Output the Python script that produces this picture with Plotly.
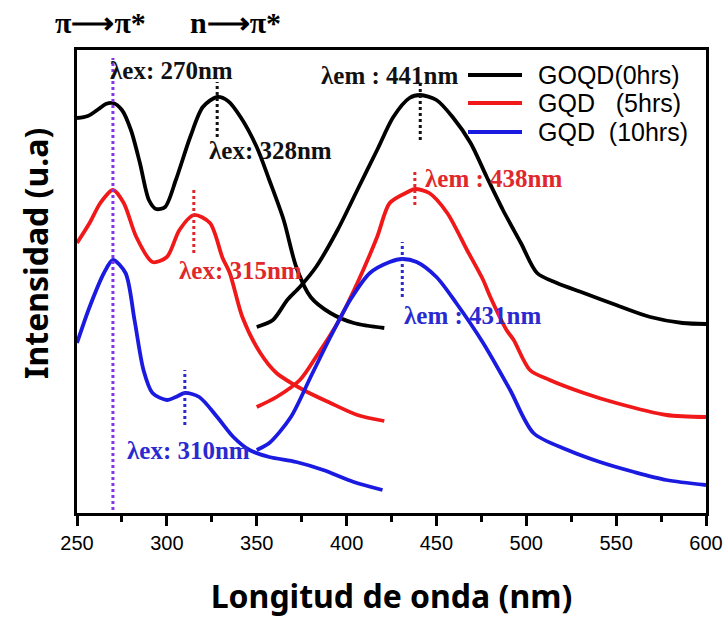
import plotly.graph_objects as go

# Wavelengths (nm) and intensities (arbitrary units) of each spectrum
ex_black_x = [250, 256, 262, 266, 270, 275, 280, 285, 290, 294, 299, 305, 313, 320, 328, 334, 341, 350, 357, 365, 372, 380, 391, 404, 421]
ex_black_y = [395, 397, 404, 409, 410, 403, 383, 350, 313, 304, 306, 333, 376, 406, 416, 412, 396, 366, 333, 293, 246, 216, 200, 190, 185]
em_black_x = [350, 359, 367, 374, 383, 395, 406, 417, 426, 435, 441, 450, 459, 469, 478, 487, 497, 506, 517, 532, 550, 569, 587, 600]
em_black_y = [186, 193, 213, 226, 246, 283, 323, 363, 396, 415, 418, 413, 396, 370, 336, 303, 270, 240, 230, 220, 208, 196, 190, 189]

ex_red_x = [250, 257, 263, 270, 276, 283, 292, 300, 307, 315, 324, 331, 335, 342, 352, 361, 376, 391, 406, 421]
ex_red_y = [270, 290, 310, 323, 310, 276, 251, 256, 283, 298, 290, 255, 240, 196, 160, 140, 123, 110, 98, 92]
em_red_x = [350, 361, 374, 383, 395, 406, 417, 424, 434, 438, 446, 456, 467, 476, 480, 489, 493, 502, 513, 532, 550, 578, 600]
em_red_y = [106, 116, 133, 156, 190, 230, 276, 310, 321, 324, 320, 300, 263, 233, 216, 183, 173, 143, 133, 120, 110, 98, 96]

ex_blue_x = [250, 257, 265, 270, 277, 282, 287, 292, 300, 305, 310, 318, 328, 337, 346, 357, 372, 387, 404, 420]
ex_blue_y = [170, 206, 240, 253, 240, 193, 143, 120, 113, 116, 120, 116, 96, 76, 63, 56, 51, 43, 31, 23]
em_blue_x = [350, 357, 369, 380, 391, 402, 413, 424, 431, 439, 450, 461, 476, 491, 504, 523, 541, 560, 578, 600]
em_blue_y = [63, 70, 96, 136, 176, 213, 240, 251, 254, 251, 236, 210, 170, 123, 80, 63, 51, 41, 33, 28]

series_names = ["GOQD(0hrs)", "GQD\u00a0\u00a0\u00a0(5hrs)", "GQD\u00a0\u00a0(10hrs)"]

# Peak wavelengths marked with dotted lines and their vertical spans
ex_peak_pi = 270
ex_peaks = [328, 315, 310]
em_peaks = [441, 438, 431]
ex_mark_span = [(376, 431), (260, 323), (88, 143)]
em_mark_span = [(373, 430), (308, 343), (216, 271)]

x_ticks = [250, 300, 350, 400, 450, 500, 550, 600]

line_colors = ["#000000", "#f01818", "#1a1ae0"]
text_colors = ["#111111", "#e0282c", "#2a2ad0"]
SERIF = "Liberation Serif"
SANS = "Liberation Sans"
TITLE = "Noto Sans"

fig = go.Figure()

ex_sets = [(ex_black_x, ex_black_y), (ex_red_x, ex_red_y), (ex_blue_x, ex_blue_y)]
em_sets = [(em_black_x, em_black_y), (em_red_x, em_red_y), (em_blue_x, em_blue_y)]

for i in range(3):
    fig.add_trace(go.Scatter(
        x=ex_sets[i][0], y=ex_sets[i][1], mode="lines",
        line=dict(color=line_colors[i], width=3.8, shape="spline", smoothing=0.8),
        showlegend=False, hoverinfo="skip"))
    fig.add_trace(go.Scatter(
        x=em_sets[i][0], y=em_sets[i][1], mode="lines", name=series_names[i],
        line=dict(color=line_colors[i], width=3.8, shape="spline", smoothing=0.8),
        showlegend=False, hoverinfo="skip"))

# dotted peak markers
fig.add_trace(go.Scatter(x=[ex_peak_pi, ex_peak_pi], y=[3, 455], mode="lines",
                         line=dict(color="#8236e6", width=3, dash="dot"),
                         showlegend=False, hoverinfo="skip"))
for i in range(3):
    fig.add_trace(go.Scatter(x=[ex_peaks[i]] * 2, y=list(ex_mark_span[i]), mode="lines",
                             line=dict(color=text_colors[i], width=3, dash="dot"),
                             showlegend=False, hoverinfo="skip"))
    fig.add_trace(go.Scatter(x=[em_peaks[i]] * 2, y=list(em_mark_span[i]), mode="lines",
                             line=dict(color=text_colors[i], width=3, dash="dot"),
                             showlegend=False, hoverinfo="skip"))

ann_font = dict(family=SERIF, size=25, weight="bold")
labels = [
    (f"\u03bbex: {ex_peak_pi}nm", 267.5, 443, text_colors[0]),
    (f"\u03bbex: {ex_peaks[0]}nm", 322.5, 363, text_colors[0]),
    (f"\u03bbex: {ex_peaks[1]}nm", 305.5, 243, text_colors[1]),
    (f"\u03bbex: {ex_peaks[2]}nm", 276.5, 63, text_colors[2]),
    (f"\u03bbem : {em_peaks[0]}nm", 384.5, 438, text_colors[0]),
    (f"\u03bbem : {em_peaks[1]}nm", 442.5, 335, text_colors[1]),
    (f"\u03bbem : {em_peaks[2]}nm", 431, 198, text_colors[2]),
]
for txt, x, y, c in labels:
    fig.add_annotation(x=x, y=y, text=txt, showarrow=False, xanchor="left", yanchor="middle",
                       font=dict(color=c, **ann_font))

# legend: sample line plus label per series, in paper coordinates
PX_L, PX_R, PX_T, PX_B = 77, 706, 50, 513
def px_to_paper(px, py):
    return (px - PX_L) / (PX_R - PX_L), (PX_B - py) / (PX_B - PX_T)

legend_rows = [75, 103, 132]
for i in range(3):
    x0, yy = px_to_paper(468, legend_rows[i])
    x1, _ = px_to_paper(522, legend_rows[i])
    xt, _ = px_to_paper(536, legend_rows[i])
    fig.add_shape(type="line", xref="paper", yref="paper", x0=x0, x1=x1, y0=yy, y1=yy,
                  line=dict(color=line_colors[i], width=4))
    fig.add_annotation(xref="paper", yref="paper", x=xt, y=yy, text=series_names[i],
                       showarrow=False, xanchor="left", yanchor="middle",
                       font=dict(family=SANS, size=25, color="black"))

# transition labels above the frame
for txt, px in [("\u03c0\u27f6\u03c0*", 53), ("n\u27f6\u03c0*", 188)]:
    xp, yp = px_to_paper(px, 22)
    fig.add_annotation(xref="paper", yref="paper", x=xp, y=yp, text=txt,
                       showarrow=False, xanchor="left", yanchor="middle",
                       font=dict(family=SERIF, size=30, weight="bold", color="black"))

# vertical axis title
xp, yp = px_to_paper(35, 254)
fig.add_annotation(xref="paper", yref="paper", x=xp, y=yp, text="Intensidad (u.a)",
                   textangle=-90, showarrow=False, xanchor="center", yanchor="middle",
                   font=dict(family=TITLE, size=32, weight="bold", color="black"))

fig.update_layout(
    width=728, height=618,
    margin=dict(l=PX_L, r=728 - PX_R, t=PX_T, b=618 - PX_B),
    paper_bgcolor="white", plot_bgcolor="white",
    showlegend=False,
    xaxis=dict(
        range=[250, 600], tickvals=x_ticks, ticktext=[str(v) for v in x_ticks],
        automargin=False,
        showline=True, linecolor="black", linewidth=3, mirror=True,
        ticks="outside", ticklen=10, tickwidth=3, tickcolor="black",
        minor=dict(ticks="outside", dtick=25, ticklen=6, tickwidth=2.5, tickcolor="black"),
        showgrid=False, zeroline=False,
        tickfont=dict(family=SANS, size=20, color="black"),
        title=dict(text="Longitud de onda (nm)", standoff=33,
                   font=dict(family=TITLE, size=32, weight="bold", color="black")),
    ),
    yaxis=dict(
        range=[0, 463], showticklabels=False, ticks="", automargin=False,
        showline=True, linecolor="black", linewidth=3, mirror=True,
        showgrid=False, zeroline=False,
    ),
)

fig.write_html("out.html")
